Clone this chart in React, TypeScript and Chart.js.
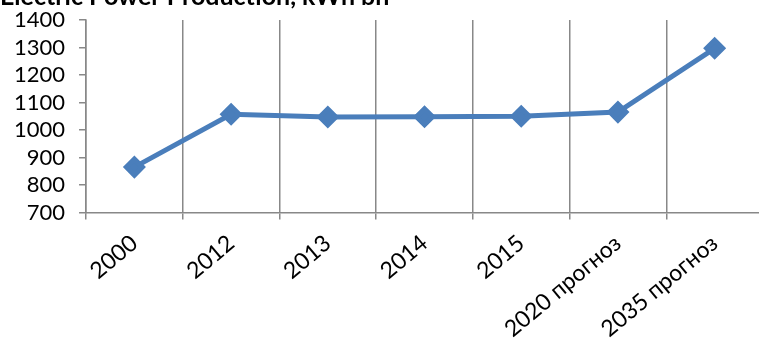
import React, { useEffect, useRef } from "react";
import { Chart, registerables } from "chart.js";

Chart.register(...registerables);

const TITLE = "Electric Power Production, kWh bn";
const categories = ["2000", "2012", "2013", "2014", "2015", "2020 прогноз", "2035 прогноз"];
const production = [865, 1057, 1047, 1048, 1050, 1065, 1297];
const yMin = 700;
const yMax = 1400;
const yStep = 100;

export default function App() {
  const ref = useRef<HTMLCanvasElement | null>(null);
  useEffect(() => {
    if (!ref.current) return;
    const font = "Lato, 'Open Sans', sans-serif";
    const chart = new Chart(ref.current, {
      type: "line",
      data: {
        labels: categories,
        datasets: [
          {
            data: production,
            borderColor: "#4A7EBB",
            backgroundColor: "#4A7EBB",
            borderWidth: 5,
            pointStyle: "rectRot",
            pointRadius: 8,
            pointHoverRadius: 8,
            tension: 0,
          },
        ],
      },
      options: {
        animation: false,
        responsive: true,
        maintainAspectRatio: false,
        layout: { padding: { left: 0, right: 0, top: 0, bottom: 0 } },
        plugins: {
          legend: { display: false },
          tooltip: { enabled: false },
          title: {
            display: true,
            text: TITLE,
            align: "start",
            color: "#000",
            font: { family: font, size: 25, weight: "bold" },
            padding: { top: 0, bottom: 8 },
          },
        },
        scales: {
          x: {
            offset: true,
            grid: {
              offset: true,
              display: true,
              color: "#888",
              lineWidth: 1.5,
              drawOnChartArea: true,
              tickLength: 7,
            },
            border: { display: true, color: "#888", width: 1.5 },
            ticks: {
              color: "#000",
              font: { family: font, size: 23 },
              minRotation: 40,
              maxRotation: 40,
              autoSkip: false,
              padding: 10,
            },
          },
          y: {
            min: yMin,
            max: yMax,
            grid: {
              display: true,
              drawOnChartArea: false,
              color: "#888",
              lineWidth: 1.5,
              tickLength: 7,
            },
            border: { display: true, color: "#888", width: 1.5 },
            ticks: {
              stepSize: yStep,
              autoSkip: false,
              color: "#000",
              font: { family: font, size: 22 },
              padding: 14,
              callback: (v: any) => String(v),
            },
          },
        },
      },
    });
    return () => chart.destroy();
  }, []);

  return (
    <div
      style={{
        position: "fixed",
        left: 0,
        top: 0,
        width: 759,
        height: 340,
        overflow: "hidden",
        background: "#fff",
      }}
    >
      <div style={{ position: "absolute", left: 0, top: -18, width: 776, height: 371 }}>
        <canvas ref={ref} />
      </div>
    </div>
  );
}
